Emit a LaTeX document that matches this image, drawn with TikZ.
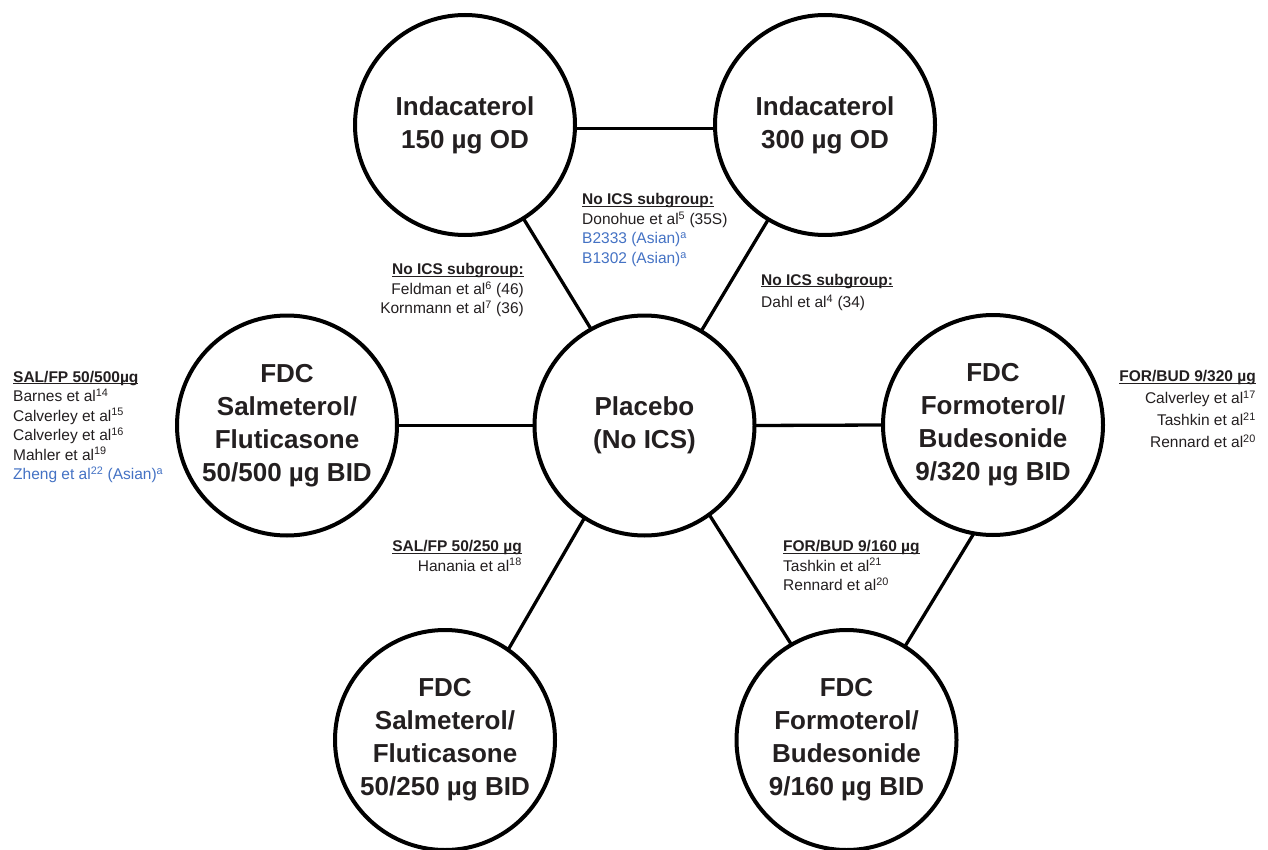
\documentclass[tikz,border=0pt]{standalone}
\usepackage{fontspec}
\setmainfont{Liberation Sans}
\definecolor{txt}{RGB}{35,31,32}
\definecolor{refblue}{RGB}{68,114,196}
\newsavebox\ulbox
\newcommand\hdul[1]{\sbox\ulbox{#1}\rlap{\rule[-2.3pt]{\wd\ulbox}{1.1pt}}\usebox\ulbox}
\newcommand\sups[1]{\textsuperscript{#1}}
\begin{document}
\begin{tikzpicture}[x=1pt,y=-1pt,
  arm/.style={circle,draw=black,line width=4pt,minimum size=220pt,inner sep=0pt,outer sep=0pt,align=center,text=txt,font=\fontsize{26}{33}\selectfont\bfseries},
  link/.style={line width=3.3pt,draw=black},
  refs/.style={inner sep=0pt,text=txt,font=\fontsize{15.5}{19.5}\selectfont}
]
\useasboundingbox[fill=white] (0,0) rectangle (1268,850);
\node[arm] (i150) at (465,125) {Indacaterol\\150 µg OD};
\node[arm] (i300) at (825,125) {Indacaterol\\300 µg OD};
\node[arm] (pla) at (644.5,425.5) {Placebo\\(No ICS)};
\node[arm] (s500) at (287,425.5) {FDC\\Salmeterol/\\Fluticasone\\50/500 µg BID};
\node[arm] (f320) at (993,425) {FDC\\Formoterol/\\Budesonide\\9/320 µg BID};
\node[arm] (s250) at (445,740) {FDC\\Salmeterol/\\Fluticasone\\50/250 µg BID};
\node[arm] (f160) at (846.5,740) {FDC\\Formoterol/\\Budesonide\\9/160 µg BID};

\draw[link] (i150.-2.6) -- (i300.182.6);
\draw[link] (i150.302.3) -- (pla.119);
\draw[link] (i300.239.4) -- (pla.59);
\draw[link] (s500.0) -- (pla.180);
\draw[link] (pla.0) -- (f320.180);
\draw[link] (pla.237.5) -- (s250.55.5);
\draw[link] (pla.306.7) -- (f160.120);
\draw[link] (f320.260) -- (f160.58.5);

\node[refs,anchor=base west] (tm) at (582,205) {\begin{tabular}[t]{@{}l@{}}\hdul{\bfseries No ICS subgroup:}\\ Donohue et al\sups{5} (35S)\\ \color{refblue}B2333 (Asian)\sups{a}\\ \color{refblue}B1302 (Asian)\sups{a}\end{tabular}};
\node[refs,anchor=base east] (lm) at (524,275) {\begin{tabular}[t]{@{}r@{}}\hdul{\bfseries No ICS subgroup:}\\ Feldman et al\sups{6} (46)\\ Kornmann et al\sups{7} (36)\end{tabular}};
\node[refs,anchor=base west] (rm) at (761,285) {\fontsize{15.5}{22.5}\selectfont\begin{tabular}[t]{@{}l@{}}\hdul{\bfseries No ICS subgroup:}\\ Dahl et al\sups{4} (34)\end{tabular}};
\node[refs,anchor=base west] (ll) at (13,382) {\begin{tabular}[t]{@{}l@{}}\hdul{\bfseries SAL/FP 50/500µg}\\ Barnes et al\sups{14}\\ Calverley et al\sups{15}\\ Calverley et al\sups{16}\\ Mahler et al\sups{19}\\ \color{refblue}Zheng et al\sups{22} (Asian)\sups{a}\end{tabular}};
\node[refs,anchor=base east] (rr) at (1256,381.5) {\fontsize{15.5}{22}\selectfont\begin{tabular}[t]{@{}r@{}}\hdul{\bfseries FOR/BUD 9/320 µg}\\ Calverley et al\sups{17}\\ Tashkin et al\sups{21}\\ Rennard et al\sups{20}\end{tabular}};
\node[refs,anchor=base east] (lb) at (522,551.5) {\begin{tabular}[t]{@{}r@{}}\hdul{\bfseries SAL/FP 50/250 µg}\\ Hanania et al\sups{18}\end{tabular}};
\node[refs,anchor=base west] (rb) at (783,551.5) {\begin{tabular}[t]{@{}l@{}}\hdul{\bfseries FOR/BUD 9/160 µg}\\ Tashkin et al\sups{21}\\ Rennard et al\sups{20}\end{tabular}};
\end{tikzpicture}
\end{document}
